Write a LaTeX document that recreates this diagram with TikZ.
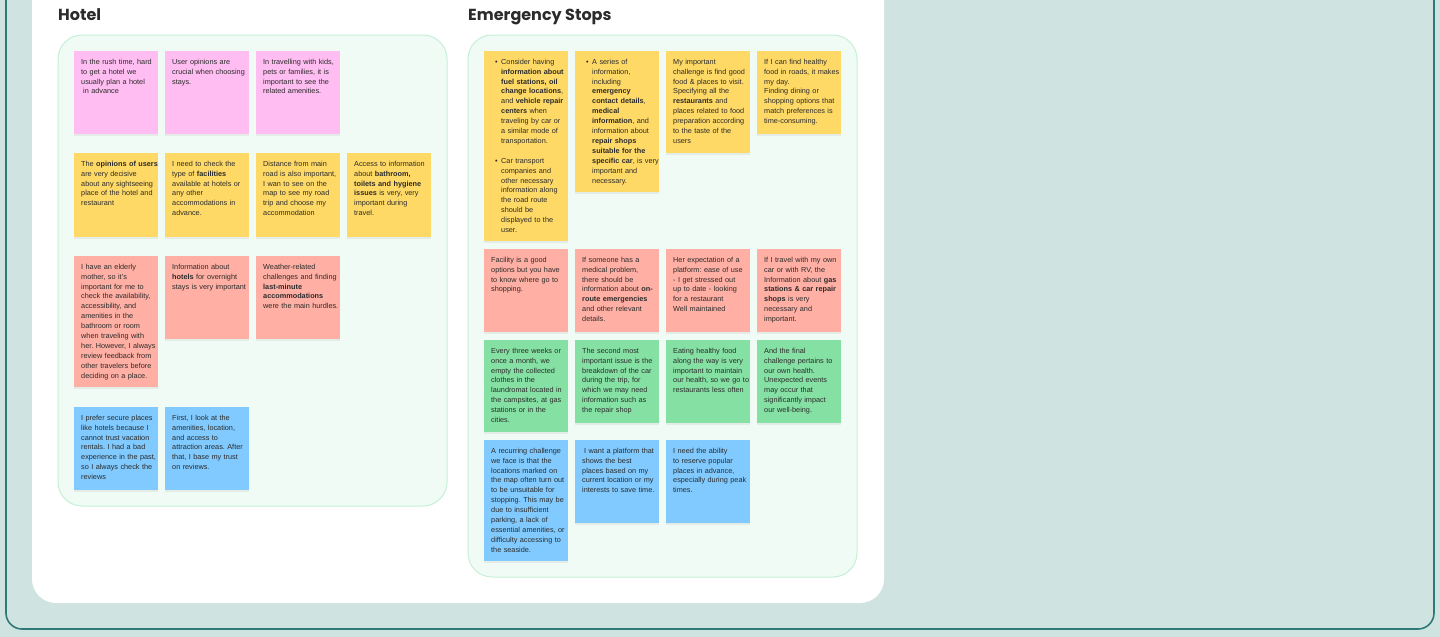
\documentclass[tikz,border=0pt]{standalone}
\usepackage{fontspec}
\setmainfont{Liberation Sans}
\newfontfamily\headfont{Poppins}
\definecolor{fjpink}{HTML}{FFBDF2}
\definecolor{fjyellow}{HTML}{FFD966}
\definecolor{fjsalmon}{HTML}{FFAFA3}
\definecolor{fjgreen}{HTML}{85E0A3}
\definecolor{fjblue}{HTML}{80CAFF}
\definecolor{fjbg}{HTML}{CFE3E0}
\definecolor{fjedge}{HTML}{2F7A77}
\definecolor{fjgroup}{HTML}{F1FBF5}
\definecolor{fjgroupedge}{HTML}{C6F0D6}
\definecolor{fjink}{HTML}{2B2B2B}
\usetikzlibrary{shadows}
\newcommand{\notelines}[1]{\begin{tabular}[t]{@{}l@{}}#1\end{tabular}}
\newcommand{\bul}{\makebox[10pt][l]{\hspace{4pt}\textbullet}}
\newcommand{\ind}{\hspace*{10pt}}
\frenchspacing

\begin{document}
\begin{tikzpicture}[x=1pt,y=-1pt,
    note/.style={anchor=north west,inner sep=7pt,text width=70pt,align=left,
                 text height=6pt,text depth=63pt,text=fjink,
                 font=\fontsize{7.3}{9.9}\selectfont,
                 drop shadow={shadow xshift=0pt,shadow yshift=-2pt,opacity=0.12}},
    pinknote/.style={note,fill=fjpink},
    yellownote/.style={note,fill=fjyellow},
    salmonnote/.style={note,fill=fjsalmon},
    greennote/.style={note,fill=fjgreen},
    bluenote/.style={note,fill=fjblue},
    grp/.style={fill=fjgroup,draw=fjgroupedge,line width=1pt,rounded corners=24pt},
    hdr/.style={anchor=base west,inner sep=0pt,text=fjink,
                font=\headfont\bfseries\fontsize{16}{19}\selectfont}]

  \useasboundingbox (0,0) rectangle (1440,637);
  \clip (0,0) rectangle (1440,637);

  %% board and white panel
  \fill[fjbg] (0,0) rectangle (1440,637);
  \draw[fjedge,line width=1.6pt,rounded corners=16pt] (6,-40) rectangle (1434,629);
  \fill[white,rounded corners=24pt] (32,-40) rectangle (884,603);

  %% sections
  \draw[grp] (58,35) rectangle (447,506);
  \draw[grp] (468,35) rectangle (857,577);
  \node[hdr] (hoteltitle) at (58,20) {Hotel};
  \node[hdr] (stopstitle) at (468,20) {Emergency Stops};

  %% Hotel notes
  \node[pinknote] (h1) at (74,51) {\notelines{In the rush time, hard\\to get a hotel we\\usually plan a hotel\\\hspace*{2pt}in advance}};
  \node[pinknote] (h2) at (165,51) {\notelines{User opinions are\\crucial when choosing\\stays.}};
  \node[pinknote] (h3) at (256,51) {\notelines{In travelling with kids,\\pets or families, it is\\important to see the\\related amenities.}};

  \node[yellownote,text depth=64pt] (h4) at (74,153) {\notelines{The \textbf{opinions of users}\\are very decisive\\about any sightseeing\\place of the hotel and\\restaurant}};
  \node[yellownote,text depth=64pt] (h5) at (165,153) {\notelines{I need to check the\\type of \textbf{facilities}\\available at hotels or\\any other\\accommodations in\\advance.}};
  \node[yellownote,text depth=64pt] (h6) at (256,153) {\notelines{Distance from main\\road is also important,\\I wan to see on the\\map to see my road\\trip and choose my\\accommodation}};
  \node[yellownote,text depth=64pt] (h7) at (347,153) {\notelines{Access to information\\about \textbf{bathroom,}\\\textbf{toilets and hygiene}\\\textbf{issues} is very, very\\important during\\travel.}};

  \node[salmonnote,text depth=111pt] (h8) at (74,256) {\notelines{I have an elderly\\mother, so it's\\important for me to\\check the availability,\\accessibility, and\\amenities in the\\bathroom or room\\when traveling with\\her. However, I always\\review feedback from\\other travelers before\\deciding on a place.}};
  \node[salmonnote] (h9) at (165,256) {\notelines{Information about\\\textbf{hotels} for overnight\\stays is very important}};
  \node[salmonnote] (h10) at (256,256) {\notelines{Weather-related\\challenges and finding\\\textbf{last-minute}\\\textbf{accommodations}\\were the main hurdles.}};

  \node[bluenote] (h11) at (74,407) {\notelines{I prefer secure places\\like hotels because I\\cannot trust vacation\\rentals. I had a bad\\experience in the past,\\so I always check the\\reviews}};
  \node[bluenote] (h12) at (165,407) {\notelines{First, I look at the\\amenities, location,\\and access to\\attraction areas. After\\that, I base my trust\\on reviews.}};

  %% Emergency Stops notes
  \node[yellownote,text depth=170pt] (e1) at (484,51) {\notelines{\bul Consider having\\\ind\textbf{information about}\\\ind\textbf{fuel stations, oil}\\\ind\textbf{change locations},\\\ind and \textbf{vehicle repair}\\\ind\textbf{centers} when\\\ind traveling by car or\\\ind a similar mode of\\\ind transportation.\\[9.9pt]\bul Car transport\\\ind companies and\\\ind other necessary\\\ind information along\\\ind the road route\\\ind should be\\\ind displayed to the\\\ind user.}};
  \node[yellownote,text depth=121pt] (e2) at (575,51) {\notelines{\bul A series of\\\ind information,\\\ind including\\\ind\textbf{emergency}\\\ind\textbf{contact details},\\\ind\textbf{medical}\\\ind\textbf{information}, and\\\ind information about\\\ind\textbf{repair shops}\\\ind\textbf{suitable for the}\\\ind\textbf{specific car}, is very\\\ind important and\\\ind necessary.}};
  \node[yellownote,text depth=82pt] (e3) at (666,51) {\notelines{My important\\challenge is find good\\food \& places to visit.\\Specifying all the\\\textbf{restaurants} and\\places related to food\\preparation according\\to the taste of the\\users}};
  \node[yellownote] (e4) at (757,51) {\notelines{If I can find healthy\\food in roads, it makes\\my day.\\Finding dining or\\shopping options that\\match preferences is\\time-consuming.}};

  \node[salmonnote] (e5) at (484,249) {\notelines{Facility is a good\\options but you have\\to know where go to\\shopping.}};
  \node[salmonnote] (e6) at (575,249) {\notelines{If someone has a\\medical problem,\\there should be\\information about \textbf{on-}\\\textbf{route emergencies}\\and other relevant\\details.}};
  \node[salmonnote] (e7) at (666,249) {\notelines{Her expectation of a\\platform: ease of use\\- I get stressed out\\up to date - looking\\for a restaurant\\Well maintained}};
  \node[salmonnote] (e8) at (757,249) {\notelines{If I travel with my own\\car or with RV, the\\Information about \textbf{gas}\\\textbf{stations \& car repair}\\\textbf{shops} is very\\necessary and\\important.}};

  \node[greennote,text depth=72pt] (e9) at (484,340) {\notelines{Every three weeks or\\once a month, we\\empty the collected\\clothes in the\\laundromat located in\\the campsites, at gas\\stations or in the\\cities.}};
  \node[greennote] (e10) at (575,340) {\notelines{The second most\\important issue is the\\breakdown of the car\\during the trip, for\\which we may need\\information such as\\the repair shop}};
  \node[greennote] (e11) at (666,340) {\notelines{Eating healthy food\\along the way is very\\important to maintain\\our health, so we go to\\restaurants less often}};
  \node[greennote] (e12) at (757,340) {\notelines{And the final\\challenge pertains to\\our own health.\\Unexpected events\\may occur that\\significantly impact\\our well-being.}};

  \node[bluenote,text depth=101pt] (e13) at (484,440) {\notelines{A recurring challenge\\we face is that the\\locations marked on\\the map often turn out\\to be unsuitable for\\stopping. This may be\\due to insufficient\\parking, a lack of\\essential amenities, or\\difficulty accessing to\\the seaside.}};
  \node[bluenote] (e14) at (575,440) {\notelines{\hspace*{2pt}I want a platform that\\shows the best\\places based on my\\current location or my\\interests to save time.}};
  \node[bluenote] (e15) at (666,440) {\notelines{I need the ability\\to reserve popular\\places in advance,\\especially during peak\\times.}};
\end{tikzpicture}
\end{document}
